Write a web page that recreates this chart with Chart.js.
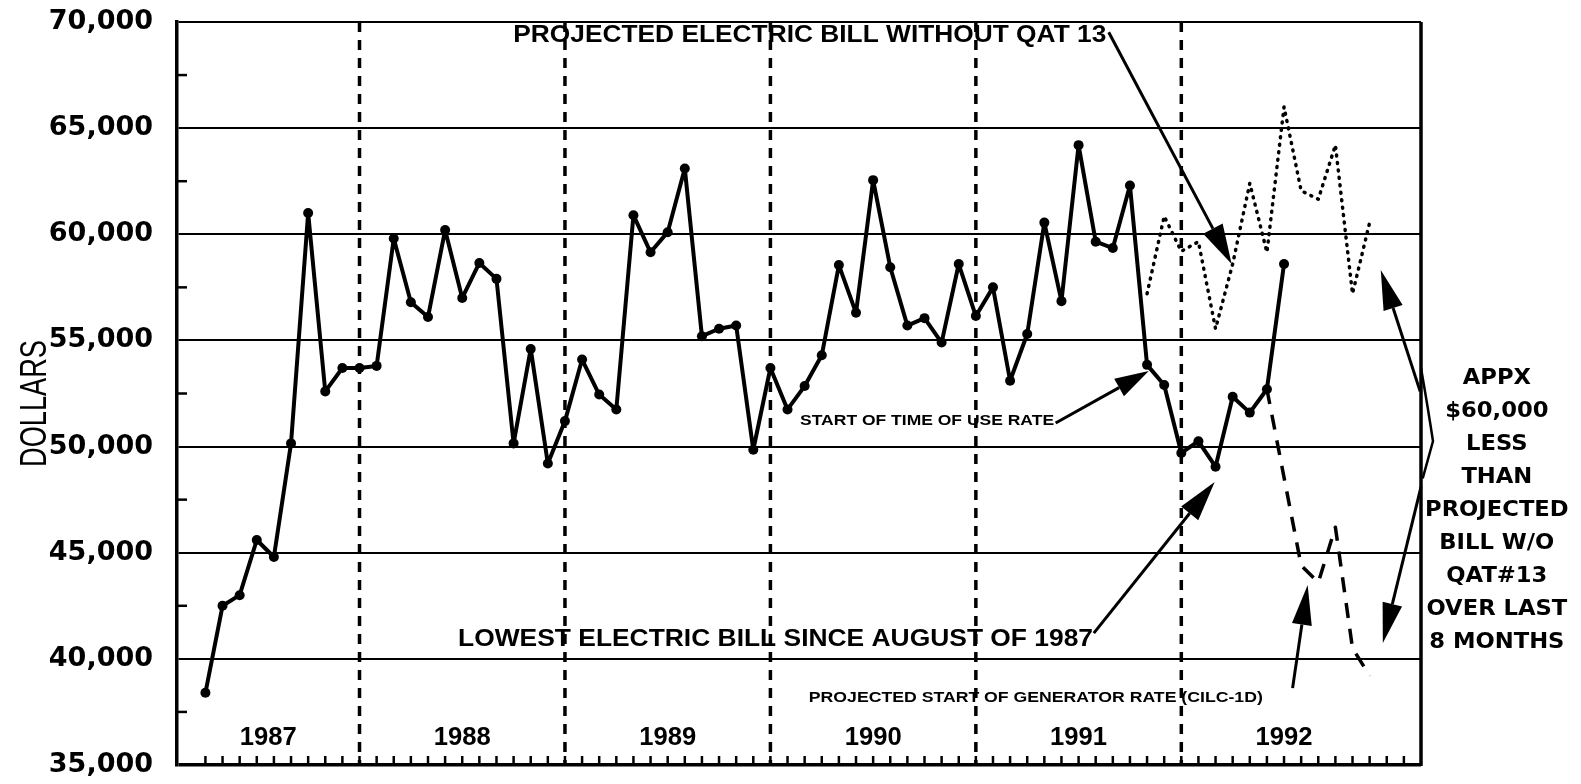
<!DOCTYPE html>
<html>
<head>
<meta charset="utf-8">
<title>Electric bill 1987-1992</title>
<script src="https://cdn.jsdelivr.net/npm/chart.js@4.4.1/dist/chart.umd.min.js"></script>
<style>
  html, body { margin: 0; padding: 0; background: #fff; }
  #wrap { width: 1581px; height: 784px; position: relative; }
</style>
</head>
<body>
<div id="wrap"><canvas id="billChart"></canvas></div>
<script>
// ─────────────────────────────────────────
//  DATA  (month index 0 = April 1987)
// ─────────────────────────────────────────
const years = ['1987', '1988', '1989', '1990', '1991', '1992'];
const firstMonth = 3;          // April (0 = January)
const lastTick = 70;           // tick marks run to Feb 1993

// actual monthly bill, Apr 1987 .. Jul 1992
const actualBill = [
  38400, 42500, 43000, 45600, 44800, 50150, 61000, 52600, 53700,
  53700, 53800, 59800, 56800, 56100, 60200, 57000, 58650, 57900, 50150, 54600, 49200,
  51200, 54100, 52450, 51750, 60900, 59150, 60100, 63100, 55200, 55550, 55700, 49850,
  53700, 51750, 52850, 54300, 58550, 56300, 62550, 58450, 55700, 56050, 54900, 58600,
  56150, 57500, 53100, 55300, 60550, 56850, 64200, 59650, 59350, 62300, 53850, 52900,
  49700, 50250, 49050, 52350, 51600, 52700, 58600
];

// projected bill without QAT 13, Nov 1991 .. Dec 1992
const projectedStart = 55;
const projectedBill = [57200, 60850, 59200, 59650, 55550, 58600, 62400, 59150, 66000, 62050, 61650, 64200, 57200, 60550];

// projected bill with generator rate (CILC-1D)
const generatorMonths = [62, 64, 65, 66, 67, 68];
const generatorBill = [52700, 44400, 43600, 46200, 40500, 39200];

const yTicks = [35000, 40000, 45000, 50000, 55000, 60000, 65000, 70000];

const sideNote = ['APPX', '$60,000', 'LESS', 'THAN', 'PROJECTED', 'BILL W/O', 'QAT#13', 'OVER LAST', '8 MONTHS'];

// ─────────────────────────────────────────
//  HELPERS
// ─────────────────────────────────────────
function fitText(ctx, text, cx, cy, font, width) {
  ctx.font = font;
  const w = ctx.measureText(text).width;
  ctx.save();
  ctx.translate(cx, cy);
  ctx.scale(width ? width / w : 1, 1);
  ctx.textAlign = 'center';
  ctx.textBaseline = 'middle';
  ctx.fillText(text, 0, 0);
  ctx.restore();
}

function arrow(ctx, x1, y1, x2, y2, len, half) {
  const a = Math.atan2(y2 - y1, x2 - x1);
  const bx = x2 - len * Math.cos(a), by = y2 - len * Math.sin(a);
  ctx.beginPath(); ctx.moveTo(x1, y1); ctx.lineTo(bx, by); ctx.stroke();
  ctx.beginPath();
  ctx.moveTo(x2, y2);
  ctx.lineTo(bx + half * Math.sin(a), by - half * Math.cos(a));
  ctx.lineTo(bx - half * Math.sin(a), by + half * Math.cos(a));
  ctx.closePath(); ctx.fill();
}

function seg(ctx, x1, y1, x2, y2) {
  ctx.beginPath(); ctx.moveTo(x1, y1); ctx.lineTo(x2, y2); ctx.stroke();
}

// annotations, anchored in data units (month index, dollars)
const notes = {
  top:     { text: 'PROJECTED ELECTRIC BILL WITHOUT QAT 13', m: 35.3, v: 69380, w: 593, font: 'bold 23px "Liberation Sans"' },
  touRate: { text: 'START OF TIME OF USE RATE', m: 42.15, v: 51200, w: 254, font: 'bold 15px "Liberation Sans"' },
  lowest:  { text: 'LOWEST ELECTRIC BILL SINCE AUGUST OF 1987', m: 33.3, v: 40890, w: 635, font: 'bold 23px "Liberation Sans"' },
  genRate: { text: 'PROJECTED START OF GENERATOR RATE (CILC-1D)', m: 48.5, v: 38130, w: 454, font: 'bold 14px "Liberation Sans"' }
};
const arrows = [
  { from: [52.76, 69520], to: [59.94, 58600], len: 40, half: 11 },
  { from: [49.66, 51110], to: [55.1, 53560], len: 34, half: 10 },
  { from: [51.89, 41215], to: [58.95, 48330], len: 40, half: 11 },
  { from: [63.5, 38620], to: [64.38, 43480], len: 40, half: 10 },
  { from: [70.95, 52600], to: [68.65, 58320], len: 40, half: 10 },
  { from: [71.0, 48100], to: [68.77, 40750], len: 40, half: 10 }
];

// ─────────────────────────────────────────
//  PLUGIN: frame, separators, ticks, notes
// ─────────────────────────────────────────
const decor = {
  id: 'decor',
  beforeDatasetsDraw(chart) {
    const { ctx, chartArea: a, scales: { x, y } } = chart;
    ctx.save();
    ctx.strokeStyle = '#000';
    ctx.fillStyle = '#000';

    // year separators (dashed)
    ctx.lineWidth = 3.5;
    ctx.setLineDash([10, 8]);
    for (let k = 1; k < years.length; k++) {
      const px = x.getPixelForValue(12 - firstMonth + 12 * (k - 1));
      seg(ctx, px, a.top, px, a.bottom);
    }
    ctx.setLineDash([]);

    // month ticks along the bottom (inside)
    ctx.lineWidth = 2.5;
    for (let m = 0; m <= lastTick; m++) {
      const px = x.getPixelForValue(m);
      seg(ctx, px, a.bottom, px, a.bottom - 9);
    }

    // minor ticks on the value axis
    for (let v = yTicks[0] + 2500; v < yTicks[yTicks.length - 1]; v += 5000) {
      const py = y.getPixelForValue(v);
      seg(ctx, a.left, py, a.left + 10, py);
    }

    // right border
    ctx.lineWidth = 3.5;
    seg(ctx, a.right, a.top, a.right, a.bottom + 1);

    // year labels
    years.forEach((yr, k) => {
      const jan = 12 - firstMonth + 12 * (k - 1);
      const mid = k === 0 ? (x.min + jan + 12) / 2 : jan + 6;
      fitText(ctx, yr, x.getPixelForValue(mid), y.getPixelForValue(36250), 'bold 25px "Liberation Sans"', 57);
    });
    ctx.restore();
  },
  afterDatasetsDraw(chart) {
    const { ctx, scales: { x, y } } = chart;
    ctx.save();
    ctx.fillStyle = '#000';
    ctx.strokeStyle = '#000';

    Object.values(notes).forEach(n => {
      fitText(ctx, n.text, x.getPixelForValue(n.m), y.getPixelForValue(n.v), n.font, n.w);
    });

    ctx.lineWidth = 3;
    arrows.forEach(r => {
      arrow(ctx, x.getPixelForValue(r.from[0]), y.getPixelForValue(r.from[1]),
        x.getPixelForValue(r.to[0]), y.getPixelForValue(r.to[1]), r.len, r.half);
    });

    // brace on the right edge
    ctx.lineWidth = 2.5;
    ctx.beginPath();
    ctx.moveTo(x.getPixelForValue(71.0), y.getPixelForValue(53700));
    ctx.quadraticCurveTo(x.getPixelForValue(71.45), y.getPixelForValue(51600),
      x.getPixelForValue(71.7), y.getPixelForValue(50250));
    ctx.lineTo(x.getPixelForValue(71.1), y.getPixelForValue(48500));
    ctx.stroke();

    // side note
    const cx = x.getPixelForValue(75.43);
    const top = y.getPixelForValue(53230);
    sideNote.forEach((line, k) => {
      ctx.font = 'bold 22px "DejaVu Sans"';
      const w = ctx.measureText(line).width * 1.03;
      fitText(ctx, line, cx, top + k * 33, 'bold 22px "DejaVu Sans"', w);
    });

    // value axis title
    ctx.save();
    ctx.translate(36, (chart.chartArea.top + chart.chartArea.bottom) / 2 + 10);
    ctx.rotate(-Math.PI / 2);
    fitText(ctx, 'DOLLARS', 0, 0, '37px "Liberation Sans"', 127);
    ctx.restore();

    ctx.restore();
  }
};

// ─────────────────────────────────────────
//  CHART
// ─────────────────────────────────────────
const actualPoints = actualBill.map((v, i) => ({ x: i, y: v }));
const projectedPoints = projectedBill.map((v, i) => ({ x: projectedStart + i, y: v }));
const generatorPoints = generatorBill.map((v, i) => ({ x: generatorMonths[i], y: v }));

new Chart(document.getElementById('billChart'), {
  type: 'line',
  data: {
    datasets: [
      {
        label: 'Actual bill',
        data: actualPoints,
        borderColor: '#000',
        backgroundColor: '#000',
        borderWidth: 4,
        borderJoinStyle: 'round',
        pointRadius: 5,
        pointBackgroundColor: '#000',
        pointBorderWidth: 0,
        tension: 0
      },
      {
        label: 'Projected without QAT 13',
        data: projectedPoints,
        borderColor: '#000',
        borderWidth: 3.5,
        borderDash: [1, 6.5],
        borderCapStyle: 'round',
        borderJoinStyle: 'round',
        pointRadius: 0,
        tension: 0
      },
      {
        label: 'Projected generator rate',
        data: generatorPoints,
        borderColor: '#000',
        borderWidth: 3.5,
        borderDash: [15, 11],
        borderJoinStyle: 'round',
        pointRadius: 0,
        tension: 0
      }
    ]
  },
  options: {
    responsive: true,
    maintainAspectRatio: false,
    animation: false,
    devicePixelRatio: 1,
    layout: { padding: { left: 0, right: 160, top: 22, bottom: 19 } },
    plugins: {
      legend: { display: false },
      tooltip: { enabled: false }
    },
    scales: {
      x: { type: 'linear', min: -1.66, max: 71.0, display: false },
      y: {
        min: yTicks[0],
        max: yTicks[yTicks.length - 1],
        afterBuildTicks: s => { s.ticks = yTicks.map(v => ({ value: v })); },
        afterFit: s => {
          s.width = 177;
          s.paddingTop = 0;
          s.paddingBottom = 0;
        },
        ticks: {
          color: '#000',
          padding: 24,
          font: { family: 'DejaVu Sans', weight: 'bold', size: 27 },
          callback: v => v.toLocaleString('en-US')
        },
        grid: {
          color: '#000',
          drawTicks: false,
          lineWidth: c => (c.tick && c.tick.value === yTicks[0]) ? 3.5 : 2
        },
        border: { display: true, color: '#000', width: 3.5 }
      }
    }
  },
  plugins: [decor]
});
</script>
</body>
</html>
